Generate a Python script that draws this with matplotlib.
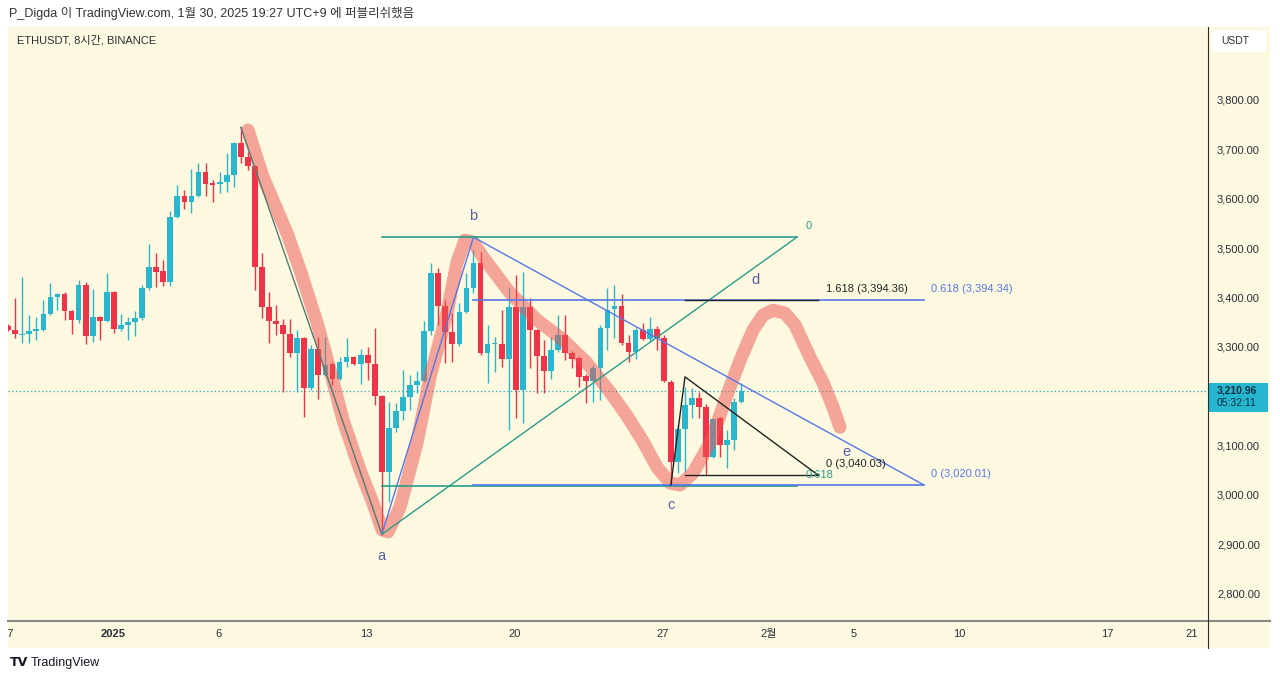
import numpy as np
import pandas as pd
import matplotlib
matplotlib.use("Agg")
import matplotlib.pyplot as plt
from matplotlib.lines import Line2D
from matplotlib.patches import Rectangle, FancyBboxPatch
from matplotlib.transforms import Bbox, TransformedBbox, blended_transform_factory

plt.rcParams['font.family'] = ['Liberation Sans', 'Noto Sans CJK KR']

# ETHUSDT 8시간봉 (첫 봉 2024-12-27 01:00 KST)
start_time = "2024-12-27 01:00"
opens = [3342, 3334, 3324, 3326, 3332, 3334, 3366, 3401, 3407, 3372,
         3354, 3425, 3322, 3360, 3352, 3411, 3336, 3344, 3350, 3358,
         3419, 3462, 3453, 3431, 3563, 3605, 3593, 3605, 3654, 3632,
         3630, 3634, 3648, 3713, 3685, 3666, 3462, 3381, 3352, 3344,
         3326, 3287, 3318, 3216, 3295, 3243, 3265, 3235, 3269, 3279,
         3265, 3283, 3265, 3200, 3046, 3135, 3170, 3198, 3223, 3231,
         3332, 3449, 3383, 3330, 3306, 3370, 3419, 3470, 3287, 3306,
         3306, 3275, 3381, 3212, 3381, 3334, 3281, 3251, 3293, 3324,
         3287, 3277, 3241, 3231, 3257, 3338, 3377, 3383, 3308, 3289,
         3334, 3316, 3336, 3318, 3229, 3066, 3133, 3182, 3196, 3178,
         3077, 3156, 3101, 3111, 3188]
highs = [3346, 3399, 3441, 3364, 3360, 3395, 3429, 3409, 3411, 3374,
         3435, 3431, 3417, 3362, 3449, 3413, 3366, 3360, 3372, 3425,
         3508, 3490, 3476, 3575, 3628, 3618, 3660, 3672, 3672, 3638,
         3654, 3692, 3715, 3745, 3695, 3668, 3490, 3411, 3385, 3356,
         3356, 3334, 3320, 3303, 3320, 3320, 3269, 3279, 3318, 3281,
         3295, 3299, 3338, 3202, 3188, 3186, 3253, 3243, 3251, 3352,
         3470, 3460, 3395, 3368, 3389, 3449, 3496, 3492, 3344, 3320,
         3374, 3419, 3445, 3451, 3399, 3336, 3314, 3320, 3364, 3364,
         3291, 3281, 3245, 3263, 3344, 3419, 3425, 3407, 3324, 3338,
         3348, 3360, 3342, 3324, 3233, 3141, 3218, 3216, 3208, 3184,
         3156, 3158, 3131, 3196, 3227]
lows = [3332, 3318, 3308, 3308, 3314, 3332, 3364, 3374, 3354, 3326,
        3348, 3306, 3310, 3314, 3350, 3328, 3332, 3314, 3322, 3354,
        3415, 3421, 3423, 3423, 3560, 3579, 3571, 3603, 3605, 3593,
        3612, 3614, 3624, 3672, 3658, 3415, 3358, 3308, 3324, 3208,
        3279, 3208, 3158, 3212, 3194, 3241, 3223, 3233, 3259, 3263,
        3225, 3233, 3182, 2919, 2985, 3127, 3152, 3172, 3206, 3229,
        3324, 3344, 3267, 3269, 3302, 3368, 3409, 3283, 3227, 3249,
        3259, 3131, 3156, 3145, 3257, 3206, 3206, 3235, 3289, 3273,
        3257, 3218, 3186, 3188, 3192, 3293, 3318, 3304, 3269, 3275,
        3314, 3312, 3293, 3229, 3018, 3044, 3046, 3156, 3156, 3040,
        3075, 3077, 3054, 3091, 3186]
closes = [3334, 3326, 3326, 3332, 3336, 3366, 3401, 3407, 3372, 3354,
          3425, 3322, 3360, 3352, 3411, 3336, 3344, 3350, 3358, 3419,
          3462, 3451, 3431, 3563, 3605, 3593, 3605, 3654, 3630, 3628,
          3634, 3648, 3713, 3685, 3666, 3462, 3381, 3352, 3346, 3326,
          3287, 3318, 3216, 3295, 3243, 3263, 3235, 3269, 3279, 3265,
          3283, 3267, 3200, 3046, 3135, 3170, 3198, 3223, 3231, 3332,
          3449, 3383, 3330, 3306, 3370, 3419, 3470, 3287, 3306, 3308,
          3275, 3381, 3212, 3381, 3334, 3281, 3251, 3293, 3324, 3287,
          3275, 3239, 3231, 3257, 3338, 3374, 3383, 3308, 3289, 3334,
          3316, 3336, 3318, 3231, 3066, 3133, 3182, 3196, 3178, 3077,
          3154, 3101, 3111, 3188, 3210.96]

last_price = 3210.96
countdown = "05:32:11"

# 축 눈금 (3,200 라벨은 현재가 라벨에 가려서 안 보임)
price_ticks = [2800, 2900, 3000, 3100, 3200, 3300, 3400, 3500, 3600, 3700, 3800]
hidden_tick = 3200
time_ticks = ["2024-12-27", "2025-01-01", "2025-01-06", "2025-01-13", "2025-01-20",
              "2025-01-27", "2025-02-01", "2025-02-05", "2025-02-10", "2025-02-17",
              "2025-02-21"]
time_labels = ["27", "2025", "6", "13", "20", "27", "2월", "5", "10", "17", "21"]

# 드로잉 포인트 (시간, 가격)
pt_top = ("2025-01-07 01:00", 3745)
pt_a = ("2025-01-13 17:00", 2920)
pt_b = ("2025-01-18 01:00", 3522)
pt_c = ("2025-01-27 09:00", 3020.01)
pt_peak = ("2025-01-28 01:00", 3239.0)
teal_end = "2025-02-02 08:00"
black_end = "2025-02-03 08:00"
blue_end = "2025-02-08 08:00"

teal_levels = [("0", 3522), ("0.618", 3018)]
blue_levels = [("0.618 (3,394.34)", 3394.34), ("0 (3,020.01)", 3020.01)]
black_levels = [("1.618 (3,394.36)", 3394.36), ("0 (3,040.03)", 3040.03)]

wave_labels = [("a", "2025-01-13 17:00", 2875), ("b", "2025-01-18 01:00", 3565),
               ("c", "2025-01-27 09:00", 2980), ("d", "2025-01-31 08:30", 3435),
               ("e", "2025-02-04 16:00", 3087)]

# 손으로 그린 분홍색 경로 (2025-01-01 기준 일수, 가격)
hl_days = [6.38, 7.09, 8.23, 8.84, 9.65, 10.26, 10.87, 11.68, 12.29, 12.72, 13.00,
           13.57, 14.37, 14.99, 15.79, 16.26, 16.64, 17.02, 17.49, 18.77, 20.05,
           21.28, 22.41, 23.50, 24.30, 25.06, 25.72, 26.34, 26.81, 27.42, 28.23,
           29.03, 29.65, 30.26, 30.73, 31.21, 31.77, 32.25, 32.95, 33.57, 34.04, 34.37]
hl_prices = [3739, 3644, 3530, 3456, 3348, 3253, 3152, 3050, 2983, 2929, 2925,
             2975, 3105, 3239, 3368, 3470, 3516, 3512, 3482, 3409, 3354,
             3314, 3267, 3208, 3160, 3108, 3056, 3024, 3020, 3044, 3105,
             3202, 3273, 3334, 3364, 3374, 3368, 3344, 3279, 3227, 3178, 3137]

# 색
bg = "#fdf9e1"
up_c = "#2ab7ce"
down_c = "#ef3349"
teal = "#2a9d8a"
blue = "#5577e6"
wave_c = "#5a5ca6"
text_c = "#2a2e39"

W, H = 1280, 681
origin = pd.Timestamp("2025-01-01")


def days(t):
    return (pd.Timestamp(t) - origin) / pd.Timedelta(days=1)


def fx(px):
    return px / W


def fy(py):
    return 1 - py / H


fig = plt.figure(figsize=(W / 100, H / 100), dpi=100, facecolor="white")
fig.add_artist(Rectangle((fx(8), fy(648)), fx(1270) - fx(8), fy(27) - fy(648),
                         transform=fig.transFigure, facecolor=bg, edgecolor="none", zorder=0))

ax = fig.add_axes([fx(8), fy(621), fx(1208) - fx(8), fy(27) - fy(621)])
ax.set_facecolor(bg)
for s in ax.spines.values():
    s.set_visible(False)
ax.set_xlim(-4.965, 51.77)
ax.set_ylim(2744.3, 3947.9)

# 캔들
times = pd.date_range(start_time, periods=len(opens), freq="8h")
x = np.array([(t - origin) / pd.Timedelta(days=1) for t in times])
o = np.array(opens)
h = np.array(highs)
l = np.array(lows)
c = np.array(closes)
cols = np.where(c >= o, up_c, down_c)
ax.vlines(x, l, h, colors=cols, linewidth=1, zorder=2)
body = np.maximum(np.abs(c - o), 2)
ax.bar(x, body, bottom=np.minimum(o, c), width=0.27, color=cols, linewidth=0, zorder=2)

# 현재가 점선
ax.axhline(last_price, color="#2aa7b8", linestyle=(0, (1, 2)), linewidth=0.9, zorder=1)

# 분홍색 하이라이트
ax.plot(hl_days, hl_prices, color="#ef5350", alpha=0.5, linewidth=9.5,
        solid_capstyle="round", solid_joinstyle="round", zorder=3)

xt, xa, xb, xc, xp = days(pt_top[0]), days(pt_a[0]), days(pt_b[0]), days(pt_c[0]), days(pt_peak[0])
xte, xbe, xbl = days(teal_end), days(black_end), days(blue_end)

# 파동선
ax.plot([xt, xa], [pt_top[1], pt_a[1]], color="#557a74", linewidth=1, zorder=4)
ax.plot([xa, xb], [pt_a[1], pt_b[1]], color=blue, linewidth=1, zorder=4)
ax.plot([xb, xbl], [pt_b[1], blue_levels[1][1]], color=blue, linewidth=1, zorder=4)

# 피보나치 (teal)
ax.plot([xa, xte], [pt_a[1], teal_levels[0][1]], color=teal, linewidth=1, zorder=4)
for lab, p in teal_levels:
    ax.plot([xa, xte], [p, p], color=teal, linewidth=1.2, zorder=4)
    ax.annotate(lab, (xte, p), xytext=(6, 8), textcoords="offset points",
                color=teal, fontsize=8, va="center", ha="left", zorder=5)

# 피보나치 (blue)
for lab, p in blue_levels:
    ax.plot([xb, xbl], [p, p], color=blue, linewidth=1.2, zorder=4)
    ax.annotate(lab, (xbl, p), xytext=(5, 8), textcoords="offset points",
                color=blue, fontsize=8, va="center", ha="left", zorder=5)

# 피보나치 확장 (black)
ax.plot([xc, xp, xbe], [pt_c[1], pt_peak[1], black_levels[1][1]], color="#222222",
        linewidth=1, zorder=4)
for lab, p in black_levels:
    ax.plot([xp, xbe], [p, p], color="#222222", linewidth=1, zorder=4)
    ax.annotate(lab, (xbe, p), xytext=(6, 8), textcoords="offset points",
                color="#222222", fontsize=8, va="center", ha="left", zorder=5)

for lab, t, p in wave_labels:
    ax.text(days(t), p, lab, color=wave_c, fontsize=10.5, ha="center", va="center", zorder=5)

# 가격축
ax.set_xticks([])
ax.yaxis.tick_right()
ax.set_yticks(price_ticks)
ax.set_yticklabels(["" if p == hidden_tick else f"{p:,.2f}" for p in price_ticks])
ax.tick_params(axis="y", length=0, pad=6.5, labelsize=8, labelcolor=text_c)

# 시간축 라벨
panel_clip = TransformedBbox(Bbox([[fx(8), 0], [fx(1270), 1]]), fig.transFigure)
trans = blended_transform_factory(ax.transData, fig.transFigure)
for t, lab in zip(time_ticks, time_labels):
    tx = fig.text(days(t), fy(634), lab, transform=trans, fontsize=8, color=text_c,
                  ha="center", va="center", fontweight="bold" if lab == "2025" else "normal")
    tx.set_clip_box(panel_clip)
    tx.set_clip_on(True)

# 구분선
fig.add_artist(Line2D([fx(8), fx(1270)], [fy(621), fy(621)], transform=fig.transFigure,
                      color="#8a8a82", linewidth=1.5))
fig.add_artist(Line2D([fx(1208), fx(1208)], [fy(27), fy(648)], transform=fig.transFigure,
                      color="#2b2b2b", linewidth=0.8))

# USDT 박스
fig.add_artist(FancyBboxPatch((fx(1212), fy(52)), fx(1266) - fx(1212), fy(30) - fy(52),
                              boxstyle="round,pad=0,rounding_size=0.004",
                              transform=fig.transFigure, facecolor="white", edgecolor="none"))
fig.text(fx(1221), fy(41), "USDT", fontsize=7.5, color=text_c, va="center", ha="left")

# 현재가 라벨
ly = ax.transData.transform((0, last_price))[1]
py = H - ly
fig.add_artist(Rectangle((fx(1209), fy(py + 21)), fx(1268) - fx(1209), 29 / H,
                         transform=fig.transFigure, facecolor="#26b6d0", edgecolor="none"))
fig.text(fx(1217), fy(py - 0.5), f"{last_price:,.2f}", fontsize=7.5, fontweight="bold",
         color="#0f3040", va="center", ha="left")
fig.text(fx(1217), fy(py + 12.5), countdown, fontsize=7.5, color="#0f3040",
         va="center", ha="left")

# 헤더 / 심볼
fig.text(fx(9), fy(13), "P_Digda 이 TradingView.com, 1월 30, 2025 19:27 UTC+9 에 퍼블리쉬했음",
         fontsize=9, color="#333333", va="center", ha="left")
fig.text(fx(17), fy(40), "ETHUSDT, 8시간, BINANCE", fontsize=8, color=text_c,
         va="center", ha="left")

# 로고
fig.text(fx(10), fy(663), "TV", fontsize=9, fontweight="bold", color="#131722",
         va="center", ha="left", family="DejaVu Sans")
fig.text(fx(31), fy(663), "TradingView", fontsize=9, color="#131722", va="center", ha="left")

fig.savefig("out.png", dpi=100, facecolor="white")
